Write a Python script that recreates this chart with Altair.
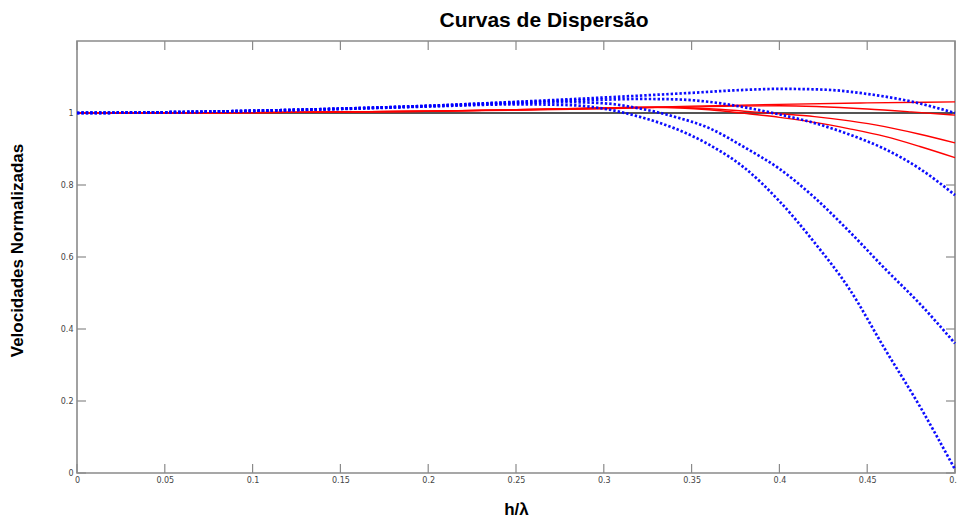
import altair as alt
import pandas as pd

# ---- dispersion curves (normalized velocity vs h/lambda) ----
# blue dotted curves
blue_a_x = [0, 0.05, 0.1, 0.15, 0.2, 0.25, 0.3, 0.35, 0.375, 0.4, 0.425, 0.45, 0.475, 0.5]
blue_a_y = [1.0, 1.002, 1.006, 1.012, 1.02, 1.031, 1.043, 1.056, 1.063, 1.067, 1.065, 1.053, 1.032, 1.0]

blue_b_x = [0, 0.05, 0.1, 0.15, 0.2, 0.25, 0.3, 0.32, 0.34, 0.36, 0.38, 0.4, 0.42, 0.44, 0.46, 0.48, 0.5]
blue_b_y = [1.0, 1.002, 1.006, 1.012, 1.02, 1.03, 1.037, 1.039, 1.038, 1.031, 1.016, 0.996, 0.972, 0.94, 0.9, 0.845, 0.772]

blue_c_x = [0, 0.05, 0.1, 0.15, 0.2, 0.25, 0.28, 0.3, 0.32, 0.34, 0.36, 0.38, 0.4, 0.42, 0.44, 0.46, 0.48, 0.5]
blue_c_y = [1.0, 1.002, 1.006, 1.012, 1.019, 1.027, 1.03, 1.027, 1.013, 0.99, 0.958, 0.905, 0.845, 0.765, 0.67, 0.568, 0.47, 0.36]

blue_d_x = [0, 0.05, 0.1, 0.15, 0.2, 0.25, 0.28, 0.3, 0.32, 0.34, 0.36, 0.38, 0.4, 0.42, 0.44, 0.46, 0.48, 0.5]
blue_d_y = [1.0, 1.002, 1.006, 1.011, 1.018, 1.024, 1.022, 1.012, 0.99, 0.958, 0.912, 0.848, 0.755, 0.64, 0.51, 0.345, 0.185, 0.01]

# red solid curves
red_1_x = [0, 0.1, 0.2, 0.25, 0.3, 0.35, 0.4, 0.45, 0.5]
red_1_y = [1.0, 1.001, 1.005, 1.009, 1.013, 1.019, 1.024, 1.028, 1.031]

red_2_x = [0, 0.1, 0.2, 0.25, 0.3, 0.35, 0.4, 0.45, 0.475, 0.5]
red_2_y = [1.0, 1.001, 1.005, 1.008, 1.012, 1.017, 1.02, 1.011, 1.003, 0.994]

red_3_x = [0, 0.1, 0.2, 0.25, 0.3, 0.33, 0.36, 0.38, 0.4, 0.42, 0.44, 0.46, 0.48, 0.5]
red_3_y = [1.0, 1.001, 1.005, 1.009, 1.014, 1.016, 1.012, 1.005, 0.998, 0.99, 0.978, 0.962, 0.941, 0.917]

red_4_x = [0, 0.1, 0.2, 0.25, 0.3, 0.33, 0.36, 0.38, 0.4, 0.42, 0.44, 0.46, 0.48, 0.5]
red_4_y = [1.0, 1.001, 1.005, 1.009, 1.014, 1.016, 1.009, 0.999, 0.988, 0.974, 0.956, 0.935, 0.907, 0.876]

# reference line at unit velocity
ref_x = [0, 0.5]
ref_y = [1.0, 1.0]

# axis ticks
x_ticks = [0, 0.05, 0.1, 0.15, 0.2, 0.25, 0.3, 0.35, 0.4, 0.45, 0.5]
y_ticks = [0, 0.2, 0.4, 0.6, 0.8, 1.0]


def long_table(curves):
    rows = []
    for name, xs, ys in curves:
        for a, b in zip(xs, ys):
            rows.append({"serie": name, "x": a, "y": b})
    return pd.DataFrame(rows)


blue_df = long_table([
    ("a", blue_a_x, blue_a_y),
    ("b", blue_b_x, blue_b_y),
    ("c", blue_c_x, blue_c_y),
    ("d", blue_d_x, blue_d_y),
])
red_df = long_table([
    ("r1", red_1_x, red_1_y),
    ("r2", red_2_x, red_2_y),
    ("r3", red_3_x, red_3_y),
    ("r4", red_4_x, red_4_y),
])
ref_df = pd.DataFrame({"x": ref_x, "y": ref_y})
xt_df = pd.DataFrame({"x": x_ticks})
yt_df = pd.DataFrame({"y": y_ticks})

W, H = 878, 432
FRAME = "#8a8a8a"

x_axis = alt.Axis(
    values=x_ticks, format="~g", title="h/λ",
    titleFont="Liberation Sans", titleFontSize=17, titleFontWeight="bold",
    titleColor="black", titleY=41, titleBaseline="alphabetic",
    labelFont="DejaVu Sans", labelFontSize=8, labelColor="#444444",
    labelPadding=3, labelFlush=False, labelOverlap=False, labelBound=False,
    ticks=False, tickSize=0, domain=False, grid=False,
)
y_axis = alt.Axis(
    values=y_ticks, format="~g", title="Velocidades Normalizadas",
    titleFont="Liberation Sans", titleFontSize=17, titleFontWeight="bold",
    titleColor="black", titleX=-60, titleY=209, titleAngle=270,
    titleAlign="center", titleBaseline="middle",
    labelFont="DejaVu Sans", labelFontSize=8, labelColor="#444444",
    labelPadding=4, labelOverlap=False,
    ticks=False, tickSize=0, domain=False, grid=False,
)

x_enc = alt.X("x:Q", scale=alt.Scale(domain=[0, 0.5], nice=False, zero=False), axis=x_axis)
y_enc = alt.Y("y:Q", scale=alt.Scale(domain=[0, 1.2], nice=False, zero=False), axis=y_axis)

ref_line = alt.Chart(ref_df).mark_line(color="#555555", strokeWidth=1.8).encode(x=x_enc, y=y_enc)

red_lines = alt.Chart(red_df).mark_line(
    color="#ff0000", strokeWidth=1.4, interpolate="monotone"
).encode(x=x_enc, y=y_enc, detail="serie:N")

blue_lines = alt.Chart(blue_df).mark_line(
    color="#0000ff", strokeWidth=2.7, strokeDash=[2.4, 2.0], strokeCap="butt",
    interpolate="monotone", opacity=0.95,
).encode(x=x_enc, y=y_enc, detail="serie:N")

# inward tick marks on all four sides of the box
tick_len = 9
bottom_ticks = alt.Chart(xt_df).mark_rule(color=FRAME, strokeWidth=1.2).encode(
    x=x_enc, y=alt.value(H), y2=alt.value(H - tick_len))
top_ticks = alt.Chart(xt_df).mark_rule(color=FRAME, strokeWidth=1.2).encode(
    x=x_enc, y=alt.value(0), y2=alt.value(tick_len))
left_ticks = alt.Chart(yt_df).mark_rule(color=FRAME, strokeWidth=1.2).encode(
    y=y_enc, x=alt.value(0), x2=alt.value(tick_len))
right_ticks = alt.Chart(yt_df).mark_rule(color=FRAME, strokeWidth=1.2).encode(
    y=y_enc, x=alt.value(W), x2=alt.value(W - tick_len))

chart = alt.layer(
    bottom_ticks, top_ticks, left_ticks, right_ticks,
    ref_line, red_lines, blue_lines,
).properties(
    width=W, height=H,
    title=alt.TitleParams(
        "Curvas de Dispersão", font="Liberation Sans", fontSize=21,
        fontWeight="bold", color="black", anchor="middle", dx=28, offset=9,
    ),
    autosize=alt.AutoSizeParams(type="none"),
    padding={"left": 77, "top": 41, "right": 2, "bottom": 45},
    background="white",
).configure_view(stroke=FRAME, strokeWidth=1.6)

chart.save("out.html", embed_options={"renderer": "svg", "actions": False})
